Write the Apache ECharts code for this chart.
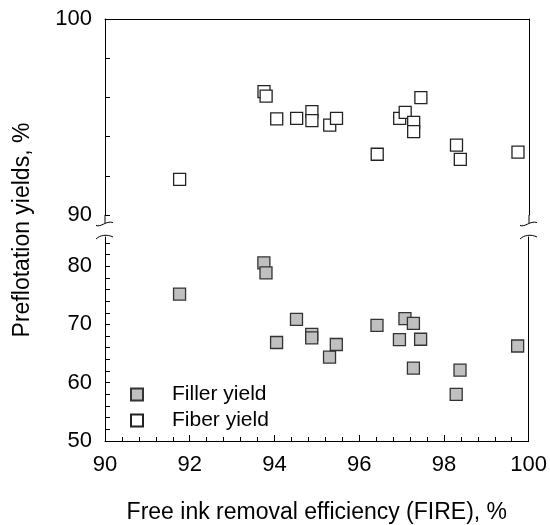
<!DOCTYPE html>
<html>
<head>
<meta charset="utf-8">
<script src="https://cdn.jsdelivr.net/npm/echarts@6/dist/echarts.min.js"></script>
<style>html,body{margin:0;padding:0;background:#fff}#c{width:550px;height:525px}</style>
</head>
<body>
<div id="c"></div>
<script>
// Free ink removal efficiency (FIRE), %
var fireEfficiency = [91.76, 93.75, 93.80, 94.05, 94.52, 94.88, 94.88, 95.30, 95.46, 96.42, 96.95, 97.08, 97.28, 97.28, 97.45, 98.29, 98.38, 99.74];
// Fiber yield, % (upper panel)
var fiberYield = [91.82, 96.29, 96.07, 94.90, 94.93, 95.27, 94.81, 94.59, 94.93, 93.10, 94.93, 95.24, 94.73, 94.25, 95.99, 93.57, 92.84, 93.21];
// Filler yield, % (lower panel)
var fillerYield = [75.2, 80.56, 78.86, 66.9, 70.85, 68.3, 67.7, 64.4, 66.56, 69.83, 67.4, 71.0, 70.17, 62.5, 67.46, 58.0, 62.15, 66.3];

var xTickLabels = [90, 92, 94, 96, 98, 100];
var yUpperTickLabels = [90, 100];
var yLowerTickLabels = [50, 60, 70, 80];

var seriesNames = ['Filler yield', 'Fiber yield'];
var xTitle = 'Free ink removal efficiency (FIRE), %';
var yTitle = 'Preflotation yields, %';

function pairs(xs, ys) { return xs.map(function (x, i) { return [x, ys[i]]; }); }
function range(a, b, step) { var r = []; for (var v = a; v <= b + 1e-9; v += step) r.push(+v.toFixed(4)); return r; }

var FONT = 'Liberation Sans, Arial, sans-serif';
var L = 105, R = 21, T1 = 19, H1 = 196, T2 = 237, B2 = 82;
var W = 550 - L - R;

var chart = echarts.init(document.getElementById('c'), null, { renderer: 'canvas' });

var lineStyle = { color: '#000', width: 1 };
var frameAxis = { axisLine: { show: true, lineStyle: lineStyle }, axisTick: { show: false }, axisLabel: { show: false }, splitLine: { show: false } };

function squiggle(x0, y, lower) {
  return {
    type: 'bezierCurve',
    shape: lower
      ? { x1: x0 - 9, y1: y + 2, cpx1: x0 - 5, cpy1: y - 2, cpx2: x0 + 2, cpy2: y - 3, x2: x0 + 8, y2: y }
      : { x1: x0 - 9, y1: y + 2, cpx1: x0 - 4, cpy1: y + 4, cpx2: x0 + 1, cpy2: y - 3, x2: x0 + 8, y2: y - 1 },
    style: { stroke: '#000', lineWidth: 1, fill: null },
    silent: true
  };
}
var graphics = [];
[L, L + W].forEach(function (x0) {
  graphics.push({ type: 'line', shape: { x1: x0, y1: T1 + H1, x2: x0, y2: 223 }, style: { stroke: '#000', lineWidth: 1 }, silent: true });
  graphics.push(squiggle(x0, 223.5, false));
  graphics.push(squiggle(x0, 237, true));
});
graphics.push({
  type: 'text', x: 23, y: 230, rotation: Math.PI / 2,
  style: { text: yTitle, font: '23px ' + FONT, fill: '#000', align: 'center', verticalAlign: 'middle' },
  silent: true
});

var option = {
  animation: false,
  backgroundColor: '#fff',
  grid: [
    { left: L, width: W, top: T1, height: H1, show: false },
    { left: L, width: W, top: T2, bottom: B2, show: false }
  ],
  xAxis: [
    Object.assign({ type: 'value', gridIndex: 0, min: 90, max: 100, position: 'top' }, frameAxis),
    {
      type: 'value', gridIndex: 1, min: 90, max: 100, interval: 2, position: 'bottom',
      name: xTitle, nameLocation: 'middle', nameGap: 60,
      nameTextStyle: { fontFamily: FONT, fontSize: 23, color: '#000' },
      axisLine: { show: true, onZero: false, lineStyle: lineStyle },
      axisTick: { show: true, inside: true, length: 6, lineStyle: lineStyle },
      minorTick: { show: true, splitNumber: 5, length: 4, lineStyle: lineStyle },
      axisLabel: { show: true, margin: 13, fontFamily: FONT, fontSize: 22, color: '#000', customValues: xTickLabels },
      splitLine: { show: false }, minorSplitLine: { show: false }
    }
  ],
  yAxis: [
    {
      type: 'value', gridIndex: 0, min: 90, max: 100, position: 'left',
      axisLine: { show: true, onZero: false, lineStyle: lineStyle },
      axisTick: { show: true, inside: true, length: 5, lineStyle: lineStyle, customValues: range(90, 100, 2) },
      axisLabel: { show: true, margin: 13, fontFamily: FONT, fontSize: 22, color: '#000', customValues: yUpperTickLabels },
      splitLine: { show: false }
    },
    Object.assign({ type: 'value', gridIndex: 0, min: 90, max: 100, position: 'right' }, frameAxis),
    {
      type: 'value', gridIndex: 1, min: 50, max: 85, position: 'left',
      axisLine: { show: true, onZero: false, lineStyle: lineStyle },
      axisTick: { show: true, inside: true, length: 5, lineStyle: lineStyle, customValues: range(50, 84, 2) },
      axisLabel: { show: true, margin: 13, fontFamily: FONT, fontSize: 22, color: '#000', customValues: yLowerTickLabels },
      splitLine: { show: false }
    },
    Object.assign({ type: 'value', gridIndex: 1, min: 50, max: 85, position: 'right' }, frameAxis)
  ],
  legend: {
    data: seriesNames,
    orient: 'vertical',
    left: 130, top: 384, padding: 0,
    itemWidth: 12, itemHeight: 12, itemGap: 5,
    icon: 'rect',
    textStyle: { fontFamily: FONT, fontSize: 21, color: '#000', padding: [0, 0, 0, 24] }
  },
  series: [
    {
      name: seriesNames[0], type: 'scatter', xAxisIndex: 1, yAxisIndex: 2,
      symbol: 'rect', symbolSize: 12,
      itemStyle: { color: '#c0c0c0', borderColor: '#333', borderWidth: 1.3, opacity: 1 },
      data: pairs(fireEfficiency, fillerYield)
    },
    {
      name: seriesNames[1], type: 'scatter', xAxisIndex: 0, yAxisIndex: 0,
      symbol: 'rect', symbolSize: 12,
      itemStyle: { color: '#fff', borderColor: '#222', borderWidth: 1.3, opacity: 1 },
      data: pairs(fireEfficiency, fiberYield)
    }
  ],
  graphic: graphics
};
chart.setOption(option);
</script>
</body>
</html>
